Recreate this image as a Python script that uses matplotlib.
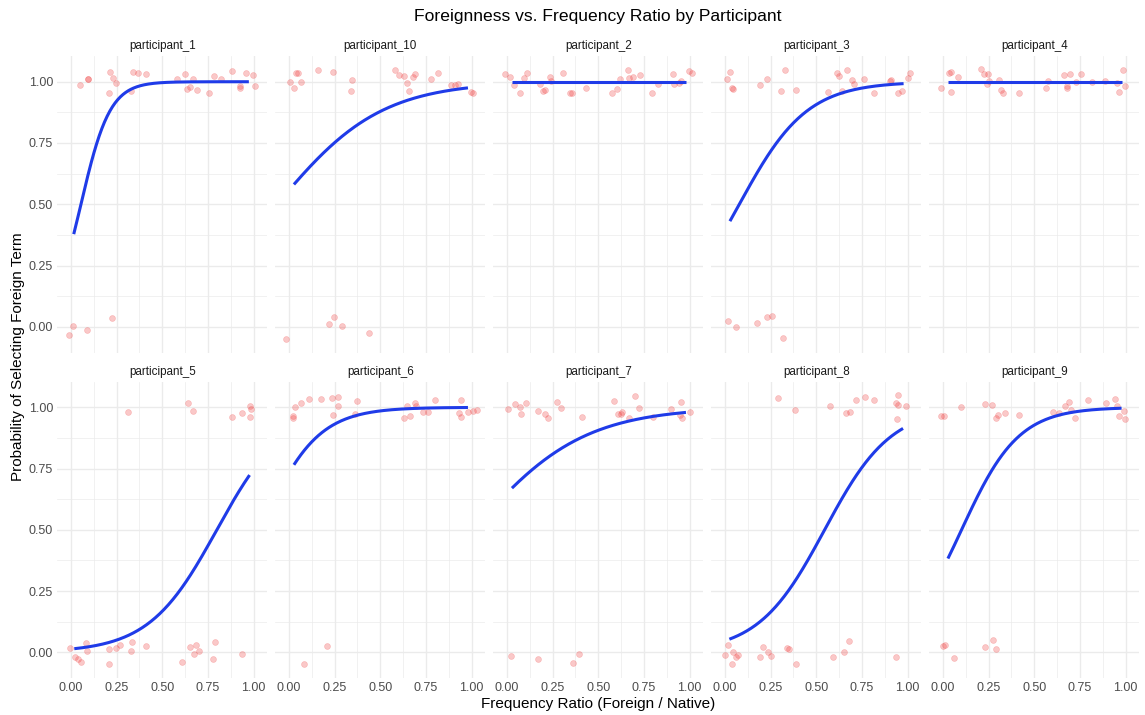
import numpy as np
import matplotlib
matplotlib.use("Agg")
from matplotlib import pyplot as plt

plt.rcParams["font.family"] = ["Liberation Sans", "DejaVu Sans"]

# facet order as drawn (alphabetical, like ggplot)
participants = ["participant_1", "participant_10", "participant_2",
                "participant_3", "participant_4", "participant_5",
                "participant_6", "participant_7", "participant_8",
                "participant_9"]

# jittered observations: ratio (x) and choice (y), one pair of lists each
p1_x = [0.049, 0.091, 0.093, 0.214, 0.229, 0.247, 0.207, 0.329, 0.342, 0.366,
        0.411, 0.580, 0.627, 0.667, 0.654, 0.634, 0.689, 0.753, 0.784, 0.823,
        0.883, 0.923, 0.925, 0.956, 0.996, 1.005,
        -0.013, 0.009, 0.088, 0.225]
p1_y = [0.986, 1.011, 1.012, 1.038, 1.014, 0.993, 0.955, 0.962, 1.038, 1.034,
        1.033, 1.010, 1.030, 1.010, 0.980, 0.969, 0.966, 0.955, 1.023, 1.012,
        1.042, 0.982, 0.973, 1.034, 1.027, 0.984,
        -0.035, 0.005, -0.012, 0.035]

p10_x = [0.005, 0.029, 0.038, 0.051, 0.064, 0.160, 0.242, 0.346, 0.337, 0.583,
         0.605, 0.630, 0.648, 0.681, 0.688, 0.656, 0.780, 0.816, 0.889, 0.911,
         0.925, 0.995, 1.007,
         -0.018, 0.220, 0.246, 0.291, 0.437]
p10_y = [1.000, 0.976, 1.037, 1.037, 0.999, 1.048, 1.039, 1.008, 0.963, 1.048,
         1.029, 1.023, 0.996, 1.020, 1.030, 0.963, 1.012, 1.037, 0.986, 0.985,
         0.992, 0.958, 0.954,
         -0.048, 0.011, 0.041, 0.004, -0.024]

p2_x = [-0.013, 0.015, 0.038, 0.071, 0.093, 0.107, 0.179, 0.199, 0.209, 0.237,
        0.242, 0.308, 0.346, 0.357, 0.434, 0.576, 0.601, 0.621, 0.661, 0.667,
        0.692, 0.729, 0.796, 0.829, 0.911, 0.916, 0.940, 0.953, 0.996, 1.013]
p2_y = [1.030, 1.019, 0.985, 0.956, 1.014, 1.035, 0.990, 0.963, 0.966, 1.018,
        1.004, 1.035, 0.954, 0.954, 0.974, 0.956, 0.970, 1.010, 1.048, 1.016,
        1.019, 1.027, 0.956, 0.990, 1.031, 0.989, 0.993, 1.001, 1.044, 1.035]

p3_x = [0.009, 0.027, 0.036, 0.042, 0.193, 0.231, 0.326, 0.308, 0.390, 0.565,
        0.612, 0.625, 0.639, 0.667, 0.694, 0.709, 0.763, 0.814, 0.905, 0.911,
        0.949, 0.971, 1.004, 1.015,
        0.015, 0.060, 0.173, 0.230, 0.255, 0.317]
p3_y = [1.012, 1.039, 0.973, 0.970, 0.985, 1.012, 1.048, 0.963, 0.965, 0.958,
        1.037, 1.024, 0.962, 1.048, 1.007, 0.990, 1.012, 0.952, 1.005, 1.008,
        0.956, 0.962, 1.016, 1.034,
        0.022, 0.000, 0.016, 0.038, 0.044, -0.044]

p4_x = [-0.009, 0.031, 0.044, 0.042, 0.082, 0.209, 0.224, 0.244, 0.240, 0.250,
        0.308, 0.320, 0.330, 0.417, 0.566, 0.575, 0.661, 0.678, 0.681, 0.696,
        0.727, 0.754, 0.818, 0.887, 0.951, 0.964, 0.984, 0.995]
p4_y = [0.976, 1.034, 1.039, 0.958, 1.020, 1.050, 1.033, 1.030, 0.990, 1.004,
        1.007, 0.965, 0.954, 0.955, 0.976, 1.004, 1.026, 0.982, 0.974, 1.030,
        0.999, 1.033, 1.000, 1.005, 0.996, 0.958, 1.046, 0.982]

p5_x = [0.642, 0.667, 0.313, 0.883, 0.934, 0.978, 0.984, 0.982,
        -0.007, 0.020, 0.038, 0.053, 0.082, 0.088, 0.207, 0.208, 0.245, 0.269,
        0.327, 0.333, 0.413, 0.609, 0.654, 0.673, 0.687, 0.702, 0.777, 0.788,
        0.934]
p5_y = [1.019, 0.986, 0.980, 0.961, 0.976, 1.005, 0.993, 0.961,
        0.018, -0.020, -0.027, -0.039, 0.038, 0.007, -0.048, 0.015, 0.018, 0.031,
        0.007, 0.041, 0.027, -0.041, 0.022, -0.007, 0.031, 0.004, -0.026, 0.042,
        -0.008]

p6_x = [0.020, 0.022, 0.033, 0.066, 0.111, 0.173, 0.237, 0.270, 0.268, 0.239,
        0.364, 0.373, 0.630, 0.648, 0.663, 0.692, 0.698, 0.734, 0.761, 0.801,
        0.931, 0.940, 0.943, 0.980, 1.005, 1.029,
        0.208, 0.084]
p6_y = [0.963, 0.955, 1.001, 1.018, 1.035, 1.035, 1.039, 1.043, 1.004, 0.969,
        0.974, 1.026, 0.955, 1.007, 0.963, 1.019, 1.007, 0.982, 0.982, 1.031,
        0.975, 0.961, 1.031, 0.980, 0.986, 0.990,
        0.026, -0.048]

p7_x = [0.005, 0.042, 0.069, 0.075, 0.106, 0.169, 0.209, 0.224, 0.275, 0.295,
        0.410, 0.585, 0.610, 0.625, 0.630, 0.701, 0.721, 0.667, 0.798, 0.898,
        0.953, 0.945, 0.958, 1.000,
        0.024, 0.169, 0.362, 0.393]
p7_y = [0.992, 1.015, 1.001, 0.971, 1.018, 0.985, 0.974, 0.958, 1.023, 0.997,
        0.961, 1.027, 0.971, 0.974, 0.982, 1.045, 0.996, 0.955, 0.961, 0.992,
        1.021, 0.967, 0.955, 0.980,
        -0.015, -0.027, -0.045, -0.008]

p8_x = [0.291, 0.381, 0.574, 0.661, 0.683, 0.716, 0.765, 0.814, 0.934, 0.947,
        0.949, 0.991, 0.942,
        0.002, 0.015, 0.036, 0.042, 0.060, 0.073, 0.193, 0.209, 0.237, 0.250,
        0.339, 0.348, 0.388, 0.594, 0.652, 0.681, 0.938]
p8_y = [1.037, 0.989, 1.004, 0.977, 0.982, 1.030, 1.043, 1.030, 1.019, 1.049,
        1.010, 1.004, 0.954,
        -0.012, 0.031, -0.048, 0.000, -0.020, -0.010, -0.020, 0.023, 0.000, -0.016,
        0.018, 0.015, -0.048, -0.018, 0.000, 0.045, -0.020]

p9_x = [-0.009, 0.005, 0.098, 0.228, 0.271, 0.290, 0.301, 0.341, 0.417, 0.601,
        0.636, 0.668, 0.692, 0.699, 0.723, 0.796, 0.893, 0.942, 0.953, 0.962,
        0.991, 0.995,
        0.002, 0.013, 0.062, 0.228, 0.275, 0.293]
p9_y = [0.963, 0.963, 1.001, 1.014, 1.008, 0.955, 0.967, 0.976, 0.967, 0.982,
        0.976, 1.004, 1.023, 0.990, 0.955, 1.030, 1.016, 1.033, 1.004, 0.965,
        0.987, 0.951,
        0.027, 0.029, -0.024, 0.022, 0.049, 0.015]

xs = [p1_x, p10_x, p2_x, p3_x, p4_x, p5_x, p6_x, p7_x, p8_x, p9_x]
ys = [p1_y, p10_y, p2_y, p3_y, p4_y, p5_y, p6_y, p7_y, p8_y, p9_y]

# logistic fit per participant: intercept, slope (None = flat at 1)
fit_a = [-0.687, 0.232, None, -0.424, None, -4.28, 1.01, 0.62, -3.0, -0.65]
fit_b = [12.6, 3.5, None, 5.4, None, 5.36, 6.4, 3.3, 5.5, 6.4]
fit_lo = [0.015, 0.027, 0.027, 0.027, 0.027, 0.018, 0.027, 0.027, 0.024, 0.027]
fit_hi = [0.974, 0.980, 0.980, 0.978, 0.978, 0.978, 0.980, 0.980, 0.975, 0.978]

ticks = [0.0, 0.25, 0.5, 0.75, 1.0]
tick_labels = ["0.00", "0.25", "0.50", "0.75", "1.00"]

W, H = 1145, 715
fig = plt.figure(figsize=(W / 100, H / 100), dpi=100)

grid_col = "#ebebeb"
text_col = "#4d4d4d"

for i, name in enumerate(participants):
    row, col = divmod(i, 5)
    left = (57.3 + 218 * col) / W
    top = 56 if row == 0 else 381.6
    ax = fig.add_axes([left, 1 - (top + 296.5) / H, 210 / W, 296.5 / H])
    ax.set_xlim(-0.075, 1.075)
    ax.set_ylim(-0.105, 1.105)
    for s in ax.spines.values():
        s.set_visible(False)
    ax.set_xticks(ticks)
    ax.set_yticks(ticks)
    ax.set_xticks([0.125, 0.375, 0.625, 0.875], minor=True)
    ax.set_yticks([0.125, 0.375, 0.625, 0.875], minor=True)
    ax.grid(True, which="major", color=grid_col, linewidth=1.0)
    ax.grid(True, which="minor", color=grid_col, linewidth=0.5)
    ax.set_axisbelow(True)
    ax.tick_params(which="both", length=0, labelsize=9, labelcolor=text_col,
                   pad=3)
    ax.set_xticklabels(tick_labels if row == 1 else [])
    ax.set_yticklabels(tick_labels if col == 0 else [])

    ax.scatter(xs[i], ys[i], s=18, color="#f03a3a", alpha=0.28,
               edgecolors="#f03a3a", linewidths=0.45, zorder=2)

    xx = np.linspace(fit_lo[i], fit_hi[i], 200)
    if fit_a[i] is None:
        yy = np.ones_like(xx)
    else:
        yy = 1 / (1 + np.exp(-(fit_a[i] + fit_b[i] * xx)))
    ax.plot(xx, yy, color="#1f3be8", linewidth=2.2, zorder=3,
            solid_capstyle="butt")

    ax.set_title(name, fontsize=8.4, color="#1a1a1a", pad=5)

# titles are centred over the panel block, not the whole figure
mid_x = 598 / W
fig.text(mid_x, 1 - 17 / H, "Foreignness vs. Frequency Ratio by Participant",
         ha="center", va="center", fontsize=12.6, color="black")
fig.text(mid_x, 1 - 704 / H, "Frequency Ratio (Foreign / Native)",
         ha="center", va="center", fontsize=11, color="black")
fig.text(18 / W, 1 - 357 / H, "Probability of Selecting Foreign Term",
         ha="center", va="center", rotation=90, fontsize=11, color="black")

fig.savefig("out.png", dpi=100, facecolor="white")
